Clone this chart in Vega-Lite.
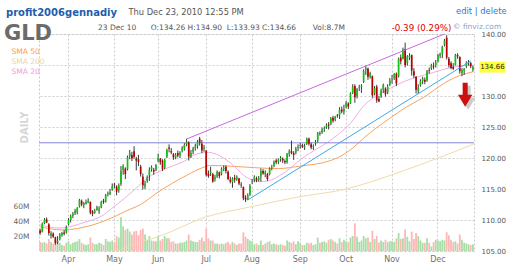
{
  "$schema": "https://vega.github.io/schema/vega-lite/v6.json",
  "width": 435,
  "height": 217,
  "autosize": {"type": "none"},
  "padding": {"left": 39, "top": 34, "right": 38, "bottom": 27},
  "background": "#ffffff",
  "config": {
    "font": "DejaVu Sans",
    "view": {"stroke": "#c8c8c8", "strokeDash": [2, 2]},
    "axis": {"domain": false, "ticks": false, "gridColor": "#cccccc", "gridDash": [2, 2], "gridWidth": 1},
    "legend": {"orient": "none"}
  },
  "title": {
    "text": "profit2006gennadiy",
    "anchor": "start",
    "frame": "group",
    "dx": -33,
    "dy": 11,
    "offset": 0,
    "font": "DejaVu Sans",
    "fontSize": 10,
    "fontWeight": "bold",
    "color": "#1c5eae"
  },
  "datasets": {
    "gld": [
      {"d":"2010-03-15","o":108.3,"h":108.6,"l":107.6,"c":107.9,"v":12},
      {"d":"2010-03-16","o":108.1,"h":109.6,"l":108.0,"c":109.4,"v":11},
      {"d":"2010-03-17","o":109.5,"h":110.3,"l":109.3,"c":110.0,"v":12},
      {"d":"2010-03-18","o":110.1,"h":110.4,"l":109.5,"c":109.6,"v":10},
      {"d":"2010-03-19","o":109.3,"h":109.5,"l":107.5,"c":107.9,"v":16},
      {"d":"2010-03-22","o":107.4,"h":108.2,"l":107.0,"c":107.9,"v":12},
      {"d":"2010-03-23","o":107.8,"h":108.0,"l":107.1,"c":107.3,"v":10},
      {"d":"2010-03-24","o":107.2,"h":107.3,"l":106.0,"c":106.3,"v":14},
      {"d":"2010-03-25","o":106.4,"h":107.4,"l":106.1,"c":106.6,"v":13},
      {"d":"2010-03-26","o":106.9,"h":107.9,"l":106.7,"c":107.7,"v":11},
      {"d":"2010-03-29","o":107.6,"h":108.1,"l":107.3,"c":107.9,"v":8},
      {"d":"2010-03-30","o":108.0,"h":108.4,"l":107.5,"c":107.8,"v":7},
      {"d":"2010-03-31","o":108.0,"h":109.1,"l":107.8,"c":108.9,"v":11},
      {"d":"2010-04-01","o":109.3,"h":110.3,"l":109.1,"c":110.0,"v":13},
      {"d":"2010-04-05","o":110.0,"h":110.9,"l":109.6,"c":110.6,"v":9},
      {"d":"2010-04-06","o":110.7,"h":111.3,"l":110.3,"c":111.0,"v":11},
      {"d":"2010-04-07","o":111.1,"h":111.8,"l":110.8,"c":111.5,"v":12},
      {"d":"2010-04-08","o":111.2,"h":112.1,"l":110.9,"c":111.9,"v":13},
      {"d":"2010-04-09","o":112.2,"h":113.4,"l":112.0,"c":113.2,"v":16},
      {"d":"2010-04-12","o":113.1,"h":113.3,"l":112.2,"c":112.5,"v":11},
      {"d":"2010-04-13","o":112.4,"h":112.9,"l":111.9,"c":112.7,"v":9},
      {"d":"2010-04-14","o":112.6,"h":113.3,"l":112.5,"c":112.9,"v":8},
      {"d":"2010-04-15","o":112.8,"h":113.5,"l":112.7,"c":113.1,"v":9},
      {"d":"2010-04-16","o":112.9,"h":113.0,"l":110.9,"c":111.2,"v":18},
      {"d":"2010-04-19","o":111.4,"h":111.6,"l":110.6,"c":111.0,"v":11},
      {"d":"2010-04-20","o":111.2,"h":111.8,"l":111.0,"c":111.5,"v":9},
      {"d":"2010-04-21","o":111.6,"h":112.3,"l":111.5,"c":112.1,"v":9},
      {"d":"2010-04-22","o":111.5,"h":112.2,"l":111.0,"c":111.8,"v":11},
      {"d":"2010-04-23","o":112.0,"h":113.1,"l":111.9,"c":112.9,"v":10},
      {"d":"2010-04-26","o":113.1,"h":113.4,"l":112.6,"c":112.9,"v":8},
      {"d":"2010-04-27","o":113.0,"h":114.2,"l":112.8,"c":114.0,"v":16},
      {"d":"2010-04-28","o":114.1,"h":114.6,"l":113.8,"c":114.3,"v":13},
      {"d":"2010-04-29","o":114.2,"h":115.0,"l":114.0,"c":114.5,"v":12},
      {"d":"2010-04-30","o":114.9,"h":115.9,"l":114.7,"c":115.4,"v":14},
      {"d":"2010-05-03","o":115.7,"h":116.0,"l":115.1,"c":115.6,"v":12},
      {"d":"2010-05-04","o":115.4,"h":115.6,"l":114.0,"c":114.6,"v":20},
      {"d":"2010-05-05","o":114.8,"h":115.9,"l":114.4,"c":115.6,"v":18},
      {"d":"2010-05-06","o":115.8,"h":118.7,"l":115.5,"c":117.9,"v":45},
      {"d":"2010-05-07","o":118.0,"h":119.0,"l":117.3,"c":118.7,"v":33},
      {"d":"2010-05-10","o":118.3,"h":118.5,"l":116.6,"c":117.4,"v":28},
      {"d":"2010-05-11","o":118.2,"h":120.4,"l":118.0,"c":120.1,"v":30},
      {"d":"2010-05-12","o":120.3,"h":121.3,"l":119.8,"c":120.8,"v":26},
      {"d":"2010-05-13","o":120.5,"h":121.0,"l":119.5,"c":119.9,"v":22},
      {"d":"2010-05-14","o":121.1,"h":121.9,"l":119.9,"c":120.2,"v":26},
      {"d":"2010-05-17","o":119.9,"h":120.2,"l":118.0,"c":119.6,"v":27},
      {"d":"2010-05-18","o":119.8,"h":120.5,"l":118.7,"c":119.4,"v":21},
      {"d":"2010-05-19","o":118.6,"h":118.9,"l":117.0,"c":117.4,"v":28},
      {"d":"2010-05-20","o":117.0,"h":117.5,"l":114.9,"c":115.6,"v":30},
      {"d":"2010-05-21","o":115.4,"h":116.3,"l":115.0,"c":115.9,"v":22},
      {"d":"2010-05-24","o":116.3,"h":117.2,"l":116.0,"c":116.9,"v":15},
      {"d":"2010-05-25","o":117.2,"h":118.5,"l":116.3,"c":118.1,"v":20},
      {"d":"2010-05-26","o":118.2,"h":118.8,"l":117.8,"c":118.5,"v":14},
      {"d":"2010-05-27","o":118.1,"h":118.4,"l":117.3,"c":117.8,"v":13},
      {"d":"2010-05-28","o":118.1,"h":119.0,"l":117.9,"c":118.9,"v":13},
      {"d":"2010-06-01","o":119.6,"h":120.7,"l":119.3,"c":120.0,"v":20},
      {"d":"2010-06-02","o":119.9,"h":120.0,"l":118.9,"c":119.3,"v":14},
      {"d":"2010-06-03","o":119.6,"h":119.8,"l":117.9,"c":118.2,"v":16},
      {"d":"2010-06-04","o":118.4,"h":119.9,"l":118.2,"c":119.7,"v":20},
      {"d":"2010-06-07","o":120.2,"h":121.5,"l":120.0,"c":121.3,"v":17},
      {"d":"2010-06-08","o":121.7,"h":122.2,"l":120.9,"c":121.5,"v":17},
      {"d":"2010-06-09","o":121.1,"h":121.6,"l":120.6,"c":120.9,"v":12},
      {"d":"2010-06-10","o":120.6,"h":120.8,"l":119.7,"c":120.1,"v":13},
      {"d":"2010-06-11","o":120.1,"h":120.8,"l":119.8,"c":120.5,"v":10},
      {"d":"2010-06-14","o":120.8,"h":121.2,"l":120.1,"c":120.4,"v":10},
      {"d":"2010-06-15","o":120.4,"h":121.1,"l":120.0,"c":120.9,"v":11},
      {"d":"2010-06-16","o":121.2,"h":121.9,"l":120.9,"c":121.6,"v":11},
      {"d":"2010-06-17","o":121.5,"h":122.4,"l":121.2,"c":122.1,"v":12},
      {"d":"2010-06-18","o":122.2,"h":123.1,"l":121.9,"c":122.6,"v":14},
      {"d":"2010-06-21","o":122.5,"h":122.7,"l":119.6,"c":120.2,"v":22},
      {"d":"2010-06-22","o":120.3,"h":121.3,"l":120.0,"c":120.8,"v":14},
      {"d":"2010-06-23","o":121.0,"h":121.8,"l":120.6,"c":121.5,"v":13},
      {"d":"2010-06-24","o":121.6,"h":122.3,"l":121.2,"c":121.9,"v":12},
      {"d":"2010-06-25","o":121.9,"h":122.9,"l":121.5,"c":122.6,"v":12},
      {"d":"2010-06-28","o":123.1,"h":123.4,"l":122.0,"c":122.5,"v":15},
      {"d":"2010-06-29","o":122.3,"h":122.9,"l":120.8,"c":121.2,"v":18},
      {"d":"2010-06-30","o":121.5,"h":122.1,"l":121.0,"c":121.7,"v":13},
      {"d":"2010-07-01","o":121.2,"h":121.3,"l":117.0,"c":117.3,"v":30},
      {"d":"2010-07-02","o":117.5,"h":118.0,"l":116.8,"c":117.1,"v":17},
      {"d":"2010-07-06","o":117.6,"h":118.6,"l":117.1,"c":117.8,"v":14},
      {"d":"2010-07-07","o":117.4,"h":117.6,"l":116.0,"c":116.2,"v":14},
      {"d":"2010-07-08","o":116.6,"h":117.3,"l":116.2,"c":116.9,"v":10},
      {"d":"2010-07-09","o":117.0,"h":118.0,"l":116.8,"c":117.8,"v":10},
      {"d":"2010-07-12","o":117.7,"h":117.8,"l":116.7,"c":117.1,"v":9},
      {"d":"2010-07-13","o":117.4,"h":118.5,"l":117.2,"c":118.2,"v":10},
      {"d":"2010-07-14","o":118.2,"h":118.8,"l":117.9,"c":118.4,"v":9},
      {"d":"2010-07-15","o":118.6,"h":118.8,"l":117.5,"c":117.9,"v":11},
      {"d":"2010-07-16","o":117.8,"h":118.0,"l":116.4,"c":116.6,"v":12},
      {"d":"2010-07-19","o":116.5,"h":117.0,"l":115.9,"c":116.2,"v":9},
      {"d":"2010-07-20","o":116.1,"h":116.9,"l":115.2,"c":116.7,"v":12},
      {"d":"2010-07-21","o":116.8,"h":117.3,"l":116.0,"c":116.5,"v":10},
      {"d":"2010-07-22","o":116.6,"h":117.2,"l":116.3,"c":116.9,"v":8},
      {"d":"2010-07-23","o":116.7,"h":116.8,"l":115.6,"c":115.9,"v":10},
      {"d":"2010-07-26","o":115.7,"h":116.1,"l":115.2,"c":115.6,"v":10},
      {"d":"2010-07-27","o":115.3,"h":115.4,"l":113.2,"c":113.5,"v":25},
      {"d":"2010-07-28","o":113.6,"h":114.0,"l":112.9,"c":113.3,"v":19},
      {"d":"2010-07-29","o":113.3,"h":114.3,"l":113.2,"c":114.0,"v":16},
      {"d":"2010-07-30","o":114.1,"h":115.8,"l":113.9,"c":115.5,"v":14},
      {"d":"2010-08-02","o":116.2,"h":116.6,"l":115.8,"c":116.3,"v":13},
      {"d":"2010-08-03","o":116.5,"h":117.2,"l":116.1,"c":116.9,"v":9},
      {"d":"2010-08-04","o":116.7,"h":117.0,"l":116.1,"c":116.4,"v":10},
      {"d":"2010-08-05","o":116.5,"h":117.1,"l":116.2,"c":116.8,"v":8},
      {"d":"2010-08-06","o":117.0,"h":118.3,"l":116.2,"c":117.9,"v":14},
      {"d":"2010-08-09","o":117.9,"h":118.2,"l":117.3,"c":117.5,"v":8},
      {"d":"2010-08-10","o":117.4,"h":118.0,"l":116.9,"c":117.7,"v":10},
      {"d":"2010-08-11","o":117.4,"h":117.6,"l":116.3,"c":116.6,"v":12},
      {"d":"2010-08-12","o":117.4,"h":118.5,"l":117.2,"c":118.3,"v":13},
      {"d":"2010-08-13","o":118.5,"h":118.9,"l":118.0,"c":118.6,"v":9},
      {"d":"2010-08-16","o":118.8,"h":119.6,"l":118.5,"c":119.4,"v":10},
      {"d":"2010-08-17","o":119.6,"h":119.9,"l":119.0,"c":119.3,"v":9},
      {"d":"2010-08-18","o":119.4,"h":119.9,"l":119.0,"c":119.7,"v":8},
      {"d":"2010-08-19","o":119.8,"h":120.3,"l":119.4,"c":120.0,"v":9},
      {"d":"2010-08-20","o":119.9,"h":120.1,"l":119.2,"c":119.6,"v":8},
      {"d":"2010-08-23","o":119.5,"h":119.8,"l":119.0,"c":119.3,"v":7},
      {"d":"2010-08-24","o":119.3,"h":120.8,"l":119.1,"c":120.6,"v":14},
      {"d":"2010-08-25","o":120.6,"h":121.4,"l":120.2,"c":121.1,"v":12},
      {"d":"2010-08-26","o":121.1,"h":122.8,"l":120.6,"c":120.8,"v":11},
      {"d":"2010-08-27","o":120.8,"h":121.1,"l":119.7,"c":120.5,"v":13},
      {"d":"2010-08-30","o":120.9,"h":121.8,"l":120.6,"c":121.5,"v":9},
      {"d":"2010-08-31","o":121.6,"h":122.2,"l":121.1,"c":121.8,"v":13},
      {"d":"2010-09-01","o":122.0,"h":122.4,"l":121.5,"c":122.1,"v":11},
      {"d":"2010-09-02","o":122.1,"h":122.3,"l":121.6,"c":121.8,"v":8},
      {"d":"2010-09-03","o":121.7,"h":122.3,"l":121.3,"c":121.9,"v":8},
      {"d":"2010-09-07","o":122.3,"h":123.3,"l":122.1,"c":123.1,"v":11},
      {"d":"2010-09-08","o":123.1,"h":123.3,"l":122.0,"c":122.3,"v":10},
      {"d":"2010-09-09","o":122.2,"h":122.5,"l":121.4,"c":121.7,"v":11},
      {"d":"2010-09-10","o":121.8,"h":122.2,"l":121.3,"c":121.9,"v":8},
      {"d":"2010-09-13","o":122.4,"h":122.9,"l":122.0,"c":122.6,"v":9},
      {"d":"2010-09-14","o":122.8,"h":124.2,"l":122.5,"c":124.0,"v":18},
      {"d":"2010-09-15","o":124.0,"h":124.3,"l":123.6,"c":123.9,"v":11},
      {"d":"2010-09-16","o":124.1,"h":124.9,"l":123.9,"c":124.6,"v":12},
      {"d":"2010-09-17","o":124.7,"h":125.1,"l":124.2,"c":124.8,"v":13},
      {"d":"2010-09-20","o":125.0,"h":125.6,"l":124.7,"c":125.3,"v":11},
      {"d":"2010-09-21","o":125.4,"h":125.8,"l":124.6,"c":125.2,"v":15},
      {"d":"2010-09-22","o":125.5,"h":126.6,"l":125.3,"c":126.4,"v":16},
      {"d":"2010-09-23","o":126.5,"h":126.8,"l":125.7,"c":126.0,"v":14},
      {"d":"2010-09-24","o":126.2,"h":126.8,"l":125.9,"c":126.6,"v":12},
      {"d":"2010-09-27","o":126.9,"h":127.1,"l":126.5,"c":126.8,"v":10},
      {"d":"2010-09-28","o":126.9,"h":128.2,"l":126.3,"c":127.8,"v":17},
      {"d":"2010-09-29","o":127.8,"h":128.3,"l":127.2,"c":127.5,"v":12},
      {"d":"2010-09-30","o":127.5,"h":128.6,"l":127.0,"c":127.9,"v":15},
      {"d":"2010-10-01","o":128.3,"h":129.2,"l":128.0,"c":128.9,"v":13},
      {"d":"2010-10-04","o":128.8,"h":129.0,"l":127.9,"c":128.3,"v":12},
      {"d":"2010-10-05","o":128.8,"h":130.6,"l":128.7,"c":130.4,"v":18},
      {"d":"2010-10-06","o":130.5,"h":131.9,"l":130.3,"c":131.5,"v":20},
      {"d":"2010-10-07","o":131.6,"h":131.9,"l":128.9,"c":129.8,"v":37},
      {"d":"2010-10-08","o":130.0,"h":131.3,"l":129.6,"c":131.1,"v":19},
      {"d":"2010-10-11","o":131.3,"h":131.8,"l":130.8,"c":131.4,"v":12},
      {"d":"2010-10-12","o":131.5,"h":131.9,"l":130.5,"c":131.6,"v":14},
      {"d":"2010-10-13","o":132.3,"h":134.3,"l":132.1,"c":134.0,"v":20},
      {"d":"2010-10-14","o":134.2,"h":134.9,"l":133.4,"c":134.5,"v":17},
      {"d":"2010-10-15","o":134.4,"h":134.6,"l":132.6,"c":133.1,"v":18},
      {"d":"2010-10-18","o":133.1,"h":133.9,"l":132.8,"c":133.7,"v":12},
      {"d":"2010-10-19","o":133.2,"h":133.3,"l":129.7,"c":130.1,"v":27},
      {"d":"2010-10-20","o":130.4,"h":131.6,"l":130.1,"c":131.3,"v":16},
      {"d":"2010-10-21","o":131.5,"h":131.8,"l":128.9,"c":129.3,"v":20},
      {"d":"2010-10-22","o":129.5,"h":130.0,"l":129.0,"c":129.1,"v":11},
      {"d":"2010-10-25","o":129.9,"h":131.2,"l":129.7,"c":130.9,"v":14},
      {"d":"2010-10-26","o":131.0,"h":132.0,"l":130.5,"c":131.8,"v":12},
      {"d":"2010-10-27","o":131.2,"h":131.4,"l":129.9,"c":130.3,"v":15},
      {"d":"2010-10-28","o":130.6,"h":131.9,"l":130.3,"c":131.5,"v":12},
      {"d":"2010-10-29","o":131.8,"h":132.9,"l":131.6,"c":132.5,"v":13},
      {"d":"2010-11-01","o":132.7,"h":133.4,"l":132.0,"c":132.8,"v":13},
      {"d":"2010-11-02","o":132.9,"h":133.7,"l":132.6,"c":133.5,"v":12},
      {"d":"2010-11-03","o":133.6,"h":133.8,"l":131.6,"c":132.0,"v":17},
      {"d":"2010-11-04","o":133.2,"h":136.2,"l":133.0,"c":136.0,"v":24},
      {"d":"2010-11-05","o":136.2,"h":136.7,"l":135.1,"c":135.6,"v":16},
      {"d":"2010-11-08","o":136.0,"h":137.8,"l":135.9,"c":137.5,"v":17},
      {"d":"2010-11-09","o":137.6,"h":138.6,"l":134.6,"c":135.0,"v":29},
      {"d":"2010-11-10","o":135.3,"h":136.6,"l":134.9,"c":136.4,"v":19},
      {"d":"2010-11-11","o":136.2,"h":136.9,"l":135.8,"c":136.5,"v":13},
      {"d":"2010-11-12","o":136.6,"h":136.7,"l":133.3,"c":134.1,"v":26},
      {"d":"2010-11-15","o":134.0,"h":134.5,"l":132.9,"c":133.3,"v":16},
      {"d":"2010-11-16","o":133.1,"h":133.2,"l":130.4,"c":131.0,"v":24},
      {"d":"2010-11-17","o":130.9,"h":131.9,"l":130.3,"c":131.4,"v":20},
      {"d":"2010-11-18","o":131.8,"h":132.7,"l":131.5,"c":132.4,"v":14},
      {"d":"2010-11-19","o":132.4,"h":133.1,"l":131.9,"c":132.8,"v":11},
      {"d":"2010-11-22","o":132.6,"h":133.0,"l":131.9,"c":132.3,"v":11},
      {"d":"2010-11-23","o":132.5,"h":134.2,"l":132.3,"c":134.0,"v":17},
      {"d":"2010-11-24","o":134.2,"h":134.6,"l":133.6,"c":134.1,"v":11},
      {"d":"2010-11-26","o":134.5,"h":135.2,"l":134.2,"c":134.9,"v":6},
      {"d":"2010-11-29","o":134.8,"h":135.4,"l":134.3,"c":134.7,"v":12},
      {"d":"2010-11-30","o":135.0,"h":135.8,"l":134.6,"c":135.4,"v":15},
      {"d":"2010-12-01","o":135.6,"h":136.8,"l":135.4,"c":136.6,"v":14},
      {"d":"2010-12-02","o":136.5,"h":137.0,"l":136.1,"c":136.8,"v":13},
      {"d":"2010-12-03","o":136.9,"h":138.1,"l":136.1,"c":137.9,"v":15},
      {"d":"2010-12-06","o":138.3,"h":139.2,"l":138.0,"c":138.9,"v":14},
      {"d":"2010-12-07","o":139.4,"h":139.8,"l":135.9,"c":136.2,"v":25},
      {"d":"2010-12-08","o":136.0,"h":136.3,"l":134.6,"c":135.0,"v":21},
      {"d":"2010-12-09","o":135.3,"h":135.6,"l":134.3,"c":134.5,"v":15},
      {"d":"2010-12-10","o":134.7,"h":135.3,"l":134.2,"c":134.4,"v":12},
      {"d":"2010-12-13","o":135.0,"h":136.8,"l":134.9,"c":136.6,"v":13},
      {"d":"2010-12-14","o":136.6,"h":136.9,"l":136.0,"c":136.4,"v":10},
      {"d":"2010-12-15","o":136.3,"h":136.4,"l":133.6,"c":134.0,"v":22},
      {"d":"2010-12-16","o":133.7,"h":134.5,"l":133.2,"c":134.2,"v":15},
      {"d":"2010-12-17","o":134.1,"h":134.5,"l":133.4,"c":134.4,"v":11},
      {"d":"2010-12-20","o":134.8,"h":135.6,"l":134.5,"c":135.3,"v":10},
      {"d":"2010-12-21","o":135.3,"h":135.8,"l":134.9,"c":135.4,"v":9},
      {"d":"2010-12-22","o":135.3,"h":135.5,"l":134.5,"c":134.8,"v":8},
      {"d":"2010-12-23","o":134.26,"h":134.90,"l":133.93,"c":134.66,"v":8.7}
    ],
    "sma": [
      {"d":"2010-03-15","s":"SMA 50","p":108.9},
      {"d":"2010-03-29","s":"SMA 50","p":108.4},
      {"d":"2010-04-19","s":"SMA 50","p":109.2},
      {"d":"2010-05-04","s":"SMA 50","p":110.7},
      {"d":"2010-05-10","s":"SMA 50","p":111.4},
      {"d":"2010-05-19","s":"SMA 50","p":112.5},
      {"d":"2010-06-01","s":"SMA 50","p":114.5},
      {"d":"2010-06-18","s":"SMA 50","p":117.2},
      {"d":"2010-06-29","s":"SMA 50","p":118.4},
      {"d":"2010-07-06","s":"SMA 50","p":118.8},
      {"d":"2010-07-23","s":"SMA 50","p":118.6},
      {"d":"2010-08-05","s":"SMA 50","p":118.4},
      {"d":"2010-08-18","s":"SMA 50","p":118.3},
      {"d":"2010-09-01","s":"SMA 50","p":118.7},
      {"d":"2010-09-22","s":"SMA 50","p":119.6},
      {"d":"2010-09-30","s":"SMA 50","p":120.6},
      {"d":"2010-10-07","s":"SMA 50","p":121.9},
      {"d":"2010-10-13","s":"SMA 50","p":123.2},
      {"d":"2010-10-21","s":"SMA 50","p":124.9},
      {"d":"2010-10-29","s":"SMA 50","p":126.4},
      {"d":"2010-11-09","s":"SMA 50","p":128.1},
      {"d":"2010-11-22","s":"SMA 50","p":129.9},
      {"d":"2010-12-06","s":"SMA 50","p":132.1},
      {"d":"2010-12-15","s":"SMA 50","p":133.3},
      {"d":"2010-12-23","s":"SMA 50","p":133.9},
      {"d":"2010-04-23","s":"SMA 200","p":104.5},
      {"d":"2010-05-04","s":"SMA 200","p":105.0},
      {"d":"2010-05-13","s":"SMA 200","p":106.0},
      {"d":"2010-06-01","s":"SMA 200","p":107.3},
      {"d":"2010-07-01","s":"SMA 200","p":110.5},
      {"d":"2010-07-30","s":"SMA 200","p":112.1},
      {"d":"2010-08-31","s":"SMA 200","p":113.7},
      {"d":"2010-10-01","s":"SMA 200","p":115.0},
      {"d":"2010-11-01","s":"SMA 200","p":117.3},
      {"d":"2010-11-17","s":"SMA 200","p":118.8},
      {"d":"2010-12-09","s":"SMA 200","p":120.8},
      {"d":"2010-12-23","s":"SMA 200","p":122.2},
      {"d":"2010-03-15","s":"SMA 20","p":109.2},
      {"d":"2010-03-26","s":"SMA 20","p":108.7},
      {"d":"2010-04-14","s":"SMA 20","p":109.7},
      {"d":"2010-04-23","s":"SMA 20","p":110.6},
      {"d":"2010-05-03","s":"SMA 20","p":112.2},
      {"d":"2010-05-10","s":"SMA 20","p":113.6},
      {"d":"2010-05-26","s":"SMA 20","p":117.2},
      {"d":"2010-06-08","s":"SMA 20","p":118.5},
      {"d":"2010-06-16","s":"SMA 20","p":119.3},
      {"d":"2010-06-25","s":"SMA 20","p":120.7},
      {"d":"2010-07-02","s":"SMA 20","p":120.9},
      {"d":"2010-07-12","s":"SMA 20","p":120.4},
      {"d":"2010-07-16","s":"SMA 20","p":119.5},
      {"d":"2010-07-30","s":"SMA 20","p":116.6},
      {"d":"2010-08-09","s":"SMA 20","p":116.2},
      {"d":"2010-08-23","s":"SMA 20","p":117.7},
      {"d":"2010-09-01","s":"SMA 20","p":119.7},
      {"d":"2010-09-27","s":"SMA 20","p":123.7},
      {"d":"2010-10-05","s":"SMA 20","p":125.6},
      {"d":"2010-10-13","s":"SMA 20","p":128.4},
      {"d":"2010-10-26","s":"SMA 20","p":130.6},
      {"d":"2010-11-09","s":"SMA 20","p":132.4},
      {"d":"2010-11-16","s":"SMA 20","p":133.0},
      {"d":"2010-11-29","s":"SMA 20","p":133.8},
      {"d":"2010-12-09","s":"SMA 20","p":134.6},
      {"d":"2010-12-23","s":"SMA 20","p":135.0}
    ],
    "trend": [
      {"d":"2010-06-18","p":123.06,"t":"up"},
      {"d":"2010-12-06","p":140.0,"t":"up"},
      {"d":"2010-07-29","p":113.23,"t":"low"},
      {"d":"2010-12-22","p":135.65,"t":"low"}
    ],
    "hline": [{"p":122.45}],
    "arrow": [{"d":"2010-12-17","p":130.2,"t":"down"}]
  },
  "layer": [
    {
      "data": {"name": "gld"},
      "mark": {"type": "bar", "size": 1.8},
      "encoding": {
        "x": {
          "field": "d", "type": "ordinal",
          "scale": {"type": "band", "paddingInner": 0, "paddingOuter": 0},
          "axis": {
            "values": ["2010-04-01","2010-05-03","2010-06-01","2010-07-01","2010-08-02","2010-09-01","2010-10-01","2010-11-01","2010-12-01"],
            "labelExpr": "timeFormat(toDate(datum.value + 'T12:00:00'), '%b')",
            "labelAngle": 0, "labelFontSize": 8, "labelColor": "#707070", "labelPadding": 4,
            "grid": true,
            "title": "Thu Dec 23, 2010 12:55 PM",
            "titleX": 89, "titleY": -239, "titleAlign": "left", "titleBaseline": "middle", "titleAngle": 0,
            "titleFontSize": 8.3, "titleFontWeight": "normal", "titleColor": "#555555"
          }
        },
        "y": {
          "field": "v", "type": "quantitative",
          "scale": {"domain": [0, 290], "nice": false},
          "axis": {
            "orient": "left", "values": [20, 40, 60], "tickCount": 10,
            "labelExpr": "datum.value + 'M'",
            "labelFontSize": 7.5, "labelColor": "#666666", "labelPadding": 10, "grid": false,
            "title": "DAILY", "titleX": -15, "titleY": 93, "titleAngle": -90, "titleAlign": "center", "titleBaseline": "middle",
            "titleFontSize": 10, "titleFontWeight": "bold", "titleColor": "#d6d6d6"
          }
        },
        "color": {"condition": {"test": "datum.c >= datum.o", "value": "#a6dea6"}, "value": "#ffb6b6"}
      }
    },
    {
      "layer": [
        {
          "data": {"name": "sma"},
          "mark": {"type": "line", "strokeWidth": 1, "clip": true, "interpolate": "monotone"},
          "encoding": {
            "x": {"field": "d", "type": "ordinal"},
            "y": {
              "field": "p", "type": "quantitative",
              "scale": {"domain": [105, 140], "nice": false, "zero": false},
              "axis": {
                "orient": "right",
                "values": [105, 110, 115, 120, 125, 130, 135, 140],
                "tickCount": 10,
                "labelExpr": "datum.value == 135 ? '' : format(datum.value, '.2f')",
                "labelOverlap": false,
                "labelFlush": false,
                "labelFontSize": 7, "labelColor": "#555555", "labelPadding": 7, "grid": true,
                "title": "-0.39 (0.29%)", "titleX": -53, "titleY": -7, "titleAngle": 0, "titleAlign": "center", "titleBaseline": "middle",
                "titleFontSize": 8.7, "titleFontWeight": "normal", "titleColor": "#dd0000"
              }
            },
            "stroke": {
              "field": "s", "type": "nominal",
              "scale": {"domain": ["SMA 50", "SMA 200", "SMA 20"], "range": ["#f9a35c", "#f0dbac", "#f2ace6"]},
              "legend": {
                "orient": "none", "legendX": -35, "legendY": -11, "padding": 0,
                "title": "GLD", "titleFontSize": 21, "titleFontWeight": "bold", "titleColor": "#6b6b6b", "titlePadding": 4,
                "labelFontSize": 7.5,
                "labelColor": {"expr": "datum.label == 'SMA 50' ? '#ff9a48' : datum.label == 'SMA 200' ? '#eed39e' : '#f09ade'"},
                "symbolOpacity": 0, "symbolSize": 0, "symbolStrokeWidth": 0, "labelOffset": 0, "rowPadding": 1
              }
            }
          }
        },
        {
          "data": {"name": "hline"},
          "mark": {"type": "rule", "color": "#8585d8", "strokeWidth": 1},
          "encoding": {
            "y": {"field": "p", "type": "quantitative"},
            "strokeDash": {
              "field": "p", "type": "nominal",
              "scale": {"range": [[1, 0]]},
              "legend": {
                "orient": "none", "legendX": 59, "legendY": -10, "padding": 0,
                "title": "23\u00a0Dec\u00a010\u00a0\u00a0\u00a0\u00a0\u00a0\u00a0O:134.26\u00a0H:134.90\u00a0\u00a0L:133.93\u00a0C:134.66\u00a0\u00a0\u00a0\u00a0\u00a0\u00a0\u00a0Vol:8.7M",
                "titleLimit": 400, "titleFontSize": 7.5, "titleFontWeight": "normal", "titleColor": "#555555",
                "labelOpacity": 0, "labelFontSize": 1, "symbolOpacity": 0, "symbolStrokeWidth": 0, "symbolSize": 0
              }
            }
          }
        },
        {
          "data": {"name": "gld"},
          "mark": {"type": "rule", "color": "#3a3a3a", "strokeWidth": 1},
          "encoding": {
            "x": {"field": "d", "type": "ordinal"},
            "y": {"field": "l", "type": "quantitative"},
            "y2": {"field": "h"}
          }
        },
        {
          "data": {"name": "gld"},
          "mark": {"type": "bar", "size": 1.7},
          "encoding": {
            "x": {"field": "d", "type": "ordinal"},
            "y": {"field": "o", "type": "quantitative"},
            "y2": {"field": "c"},
            "color": {"condition": {"test": "datum.c >= datum.o", "value": "#14c014"}, "value": "#b80000"}
          }
        },
        {
          "data": {"name": "trend"},
          "mark": {"type": "line", "strokeWidth": 1},
          "encoding": {
            "x": {"field": "d", "type": "ordinal"},
            "y": {"field": "p", "type": "quantitative"},
            "color": {
              "field": "t", "type": "nominal",
              "scale": {"domain": ["up", "low"], "range": ["#c76ae0", "#3fa9ea"]},
              "legend": {
                "orient": "none", "legendX": 414, "legendY": -11, "padding": 0,
                "title": "© finviz.com", "titleFontSize": 7.5, "titleFontWeight": "normal", "titleColor": "#8da5c2",
                "labelOpacity": 0, "labelFontSize": 1, "symbolOpacity": 0, "symbolStrokeWidth": 0, "symbolSize": 0
              }
            }
          }
        },
        {
          "data": {"name": "gld"},
          "transform": [{"filter": "datum.d == '2010-12-23'"}],
          "mark": {"type": "point", "shape": "M-1,-0.42L1,-0.42L1,0.42L-1,0.42Z", "size": 676, "filled": true, "color": "#ffff3a", "opacity": 1, "xOffset": 19.5},
          "encoding": {
            "x": {"field": "d", "type": "ordinal"},
            "y": {"field": "c", "type": "quantitative"}
          }
        },
        {
          "data": {"name": "gld"},
          "transform": [{"filter": "datum.d == '2010-12-23'"}],
          "mark": {"type": "text", "dx": 19.5, "fontSize": 7, "color": "#222222", "align": "center", "baseline": "middle"},
          "encoding": {
            "x": {"field": "d", "type": "ordinal"},
            "y": {"field": "c", "type": "quantitative"},
            "text": {"field": "c", "type": "quantitative", "format": ".2f"}
          }
        },
        {
          "data": {"name": "arrow"},
          "mark": {"type": "point", "shape": "M-0.21,-1L0.21,-1L0.21,0L0.6,0L0,1L-0.6,0L-0.21,0Z", "size": 576, "filled": true, "color": "#555555", "opacity": 0.3, "xOffset": 4, "yOffset": 3},
          "encoding": {
            "x": {"field": "d", "type": "ordinal"},
            "y": {"field": "p", "type": "quantitative"}
          }
        },
        {
          "data": {"name": "arrow"},
          "mark": {"type": "point", "size": 576, "filled": true, "color": "#cc1010", "opacity": 1, "xOffset": 1},
          "encoding": {
            "x": {"field": "d", "type": "ordinal"},
            "y": {"field": "p", "type": "quantitative"},
            "shape": {
              "field": "t", "type": "nominal",
              "scale": {"domain": ["down"], "range": ["M-0.21,-1L0.21,-1L0.21,0L0.6,0L0,1L-0.6,0L-0.21,0Z"]},
              "legend": {
                "orient": "none", "legendX": 417, "legendY": -27, "padding": 0,
                "title": "edit | delete", "titleFontSize": 8.4, "titleFontWeight": "normal", "titleColor": "#3a76c4",
                "labelOpacity": 0, "labelFontSize": 1, "symbolOpacity": 0, "symbolStrokeWidth": 0, "symbolSize": 0
              }
            }
          }
        }
      ]
    }
  ],
  "resolve": {"scale": {"y": "independent"}}
}
